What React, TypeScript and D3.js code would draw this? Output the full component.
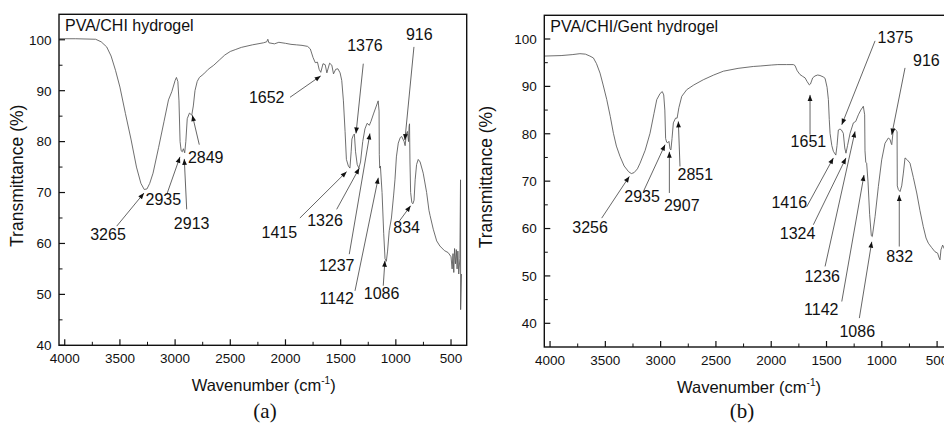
import * as d3 from "d3";

// FTIR spectra: wavenumber (cm-1) and transmittance (%)
const wavenumberA = [
  4050, 3900, 3720, 3670, 3620, 3580, 3540, 3500, 3450, 3400, 3350, 3310, 3280, 3255, 3230, 3200,
  3150, 3100, 3060, 3030, 3000, 2988, 2975, 2965, 2955, 2945, 2935, 2925, 2913, 2903, 2890, 2870,
  2849, 2835, 2820, 2800, 2780, 2740, 2700, 2650, 2600, 2550, 2500, 2450, 2400, 2300, 2200, 2170,
  2160, 2150, 2100, 2060, 2000, 1950, 1900, 1850, 1800, 1775, 1750, 1730, 1710, 1695, 1680, 1660,
  1640, 1625, 1600, 1580, 1565, 1545, 1525, 1505, 1490, 1475, 1460, 1448, 1430, 1416, 1405, 1398,
  1386, 1376, 1365, 1350, 1335, 1320, 1300, 1280, 1260, 1240, 1225, 1200, 1180, 1160, 1152, 1150,
  1146, 1140, 1125, 1110, 1098, 1086, 1075, 1060, 1040, 1020, 1008, 995, 978, 960, 947, 925,
  916, 905, 895, 885, 880, 876, 872, 866, 855, 845, 835, 825, 812, 797, 780, 752,
  721, 700, 690, 661, 630, 601, 560, 526, 500, 490, 482, 475, 468, 460, 452, 445,
  438, 430, 420, 414, 413, 405,
];
const transA = [
  100.2, 100.2, 100.1, 99.6, 98.6, 96.8, 94, 90.7, 85.5, 80.5, 75, 71.8, 70.6, 70.7, 71.8, 73.8,
  78.8, 84, 88.2, 89.8, 92, 92.6, 91.8, 88, 80, 78.2, 78, 78.6, 77.8, 80, 84.5, 85.6,
  85.2, 87, 90, 91.8, 92.6, 93.3, 94.2, 95, 96, 97, 97.7, 98.1, 98.5, 99, 99.4, 99.6,
  100.1, 99.4, 99.2, 99.5, 99.3, 99.1, 99, 98.9, 98.7, 98.2, 96.5, 95.5, 95.6, 94.2, 93.6, 95.3,
  95.1, 93.5, 95.4, 95, 93.3, 94.2, 94.3, 93.5, 92, 88, 82, 76.5, 75.2, 74.8, 78, 80.5,
  81.2, 81.5, 78, 75.5, 74.8, 76, 80, 82.5, 83.6, 83.2, 84, 85.6, 86.8, 88, 86, 77.5,
  74.8, 75.2, 70, 62, 57, 56.5, 58.5, 62.5, 65, 69.5, 72.5, 77, 79.7, 80.8, 81, 80,
  79.2, 81.5, 82, 80, 83, 83.5, 76, 70, 68, 67.8, 68.5, 72.5, 75.5, 76.5, 76, 73.8,
  70, 66.5, 65.5, 62.8, 60.5, 59.5, 58.6, 58.2, 57.4, 55, 58, 54.3, 59, 56, 58.8, 55,
  58.5, 54, 57, 72.5, 47, 54,
];

const wavenumberB = [
  4050, 3900, 3800, 3730, 3680, 3640, 3608, 3580, 3548, 3520, 3487, 3455, 3427, 3400, 3367, 3330,
  3290, 3265, 3240, 3210, 3186, 3140, 3096, 3060, 3035, 3005, 2985, 2972, 2962, 2955, 2945, 2935,
  2925, 2915, 2907, 2897, 2885, 2865, 2851, 2835, 2809, 2780, 2764, 2700, 2614, 2520, 2433, 2300,
  2162, 2100, 2000, 1940, 1860, 1800, 1785, 1765, 1740, 1715, 1694, 1675, 1655, 1645, 1625, 1604,
  1580, 1559, 1530, 1513, 1495, 1483, 1475, 1468, 1452, 1438, 1416, 1405, 1393, 1378, 1365, 1348,
  1335, 1324, 1310, 1287, 1257, 1236, 1212, 1190, 1167, 1155, 1152, 1145, 1137, 1125, 1110, 1095,
  1086, 1061, 1031, 1001, 971, 941, 925, 916, 910, 900, 890, 875, 862, 860, 850, 835,
  820, 805, 790, 770, 745, 715, 684, 655, 625, 600, 579, 550, 519, 495, 485, 474,
  465, 450, 430, 410,
];
const transB = [
  96.4, 96.5, 96.7, 96.9, 96.8, 96.4, 96, 94.8, 92.8, 90.3, 87.2, 83.6, 80.1, 77.4, 75.2, 73.2,
  72, 71.6, 71.8, 72.6, 73.8, 76.5, 80.1, 84.3, 87.2, 88.5, 88.9, 88.2, 85, 79, 78.2, 78.1,
  78.4, 76.8, 76.6, 79, 82.3, 83.3, 83.3, 85.5, 87.9, 88.8, 89.3, 90.3, 91.4, 92.4, 93.2, 93.8,
  94.2, 94.3, 94.5, 94.6, 94.6, 94.6, 94.4, 93.3, 92.5, 92.1, 91.8, 91, 90.3, 90.5, 91.8, 92.2,
  92.4, 92.3, 92, 91.7, 89.8, 87.2, 83, 80.1, 77.5, 76.3, 75.5, 77.5, 80.8, 81, 80.8, 80.1,
  77, 75.9, 77.5, 80.1, 82.3, 82.6, 84, 85, 85.8, 84, 76.4, 74, 73.8, 70, 63, 58.5,
  58.3, 62.5, 68.9, 74.5, 78, 79.1, 78.8, 78, 77.7, 80, 81.2, 80.8, 80.5, 69, 68.2, 67.8,
  69, 71.7, 74.9, 74.5, 73.8, 70.8, 67.5, 63.8, 60.4, 58, 56.9, 56, 55.1, 54.8, 54, 53.4,
  55.5, 56.5, 55.5, 55,
];

const xTicks = [4000, 3500, 3000, 2500, 2000, 1500, 1000, 500];
const yTicks = [40, 50, 60, 70, 80, 90, 100];

// band labels: where the text sits, where the leader starts, where the arrow points
const bandsA = [
  { label: "3265", text: [3608, 60.7], from: [3529, 63.4], to: [3282, 69.9] },
  { label: "2935", text: [3107, 67.6], from: [3076, 69.6], to: [2956, 77.0] },
  { label: "2913", text: [2850, 62.8], from: [2895, 66.7], to: [2917, 76.6] },
  { label: "2849", text: [2723, 75.8], from: [2781, 79.4], to: [2844, 85.2] },
  { label: "1652", text: [2170, 87.5], from: [1959, 88.7], to: [1681, 92.9] },
  { label: "1376", text: [1280, 97.8], from: [1295, 95.3], to: [1361, 81.6] },
  { label: "916", text: [788, 100], from: [836, 98.6], to: [918, 80.3] },
  { label: "1415", text: [2056, 61.1], from: [1869, 65.0], to: [1446, 74.1] },
  { label: "1326", text: [1642, 63.5], from: [1536, 66.7], to: [1331, 74.8] },
  { label: "1237", text: [1536, 54.6], from: [1422, 57.9], to: [1235, 81.6] },
  { label: "1142", text: [1536, 48.1], from: [1370, 50.7], to: [1159, 72.9] },
  { label: "1086", text: [1129, 49.1], from: [1114, 51.7], to: [1099, 56.6] },
  { label: "834", text: [902, 62.1], from: [978, 64.1], to: [866, 67.4] },
];
const bandsB = [
  { label: "3256", text: [3638, 59.0], from: [3533, 62.2], to: [3283, 71.0] },
  { label: "2935", text: [3168, 65.7], from: [3156, 67.8], to: [2960, 77.7] },
  { label: "2907", text: [2809, 63.8], from: [2921, 67.5], to: [2921, 76.2] },
  { label: "2851", text: [2686, 70.3], from: [2825, 73.1], to: [2840, 82.6] },
  { label: "1651", text: [1664, 77.3], from: [1649, 79.8], to: [1649, 88.2] },
  { label: "1375", text: [878, 99.2], from: [1061, 99.6], to: [1362, 81.9] },
  { label: "916", text: [597, 94.2], from: [790, 93.9], to: [910, 79.8] },
  { label: "1416", text: [1837, 64.3], from: [1679, 64.6], to: [1438, 74.9] },
  { label: "1324", text: [1762, 57.7], from: [1619, 60.8], to: [1324, 74.9] },
  { label: "1236", text: [1539, 48.8], from: [1513, 52.0], to: [1242, 80.5] },
  { label: "1142", text: [1547, 41.7], from: [1362, 44.6], to: [1161, 71.3] },
  { label: "1086", text: [1222, 37.2], from: [1203, 41.1], to: [1091, 57.2] },
  { label: "832", text: [838, 53.0], from: [842, 56.2], to: [842, 67.1] },
];

const SANS = "'Liberation Sans', Arial, sans-serif";

function Panel(props) {
  const { id, title, tag, wn, tr, bands, yMin, left, right, top, bottom, yTitleX, tagX, xTitleX } = props;
  const x = d3.scaleLinear().domain([4052, 358]).range([left, right]);
  const y = d3.scaleLinear().domain([yMin, 105]).range([bottom, top]);
  const line = d3
    .line<number>()
    .x((d, i) => x(wn[i]))
    .y((d) => y(d));
  const minorX = d3.range(750, 4000, 500);
  const minorY = d3.range(45, 100, 10);
  const midY = (top + bottom) / 2 - 4;

  return (
    <g>
      <defs>
        <marker id={"arrow" + id} viewBox="0 0 10 10" refX="10" refY="5" markerWidth="7" markerHeight="6"
          markerUnits="userSpaceOnUse" orient="auto">
          <path d="M0,1 L10,5 L0,9 z" fill="#111" />
        </marker>
      </defs>
      <path d={line(tr) || ""} fill="none" stroke="#555" strokeWidth={0.85} />

      {bands.map((b) => (
        <g key={b.label}>
          <line x1={x(b.from[0])} y1={y(b.from[1])} x2={x(b.to[0])} y2={y(b.to[1])}
            stroke="#333" strokeWidth={0.75} markerEnd={`url(#arrow${id})`} />
          <text x={x(b.text[0])} y={y(b.text[1])} textAnchor="middle" fontSize={16} fontFamily={SANS} fill="#111">
            {b.label}
          </text>
        </g>
      ))}

      <rect x={left} y={top} width={right - left} height={bottom - top} fill="none" stroke="#111" strokeWidth={1.4} />

      {xTicks.map((t) => (
        <g key={"x" + t}>
          <line x1={x(t)} x2={x(t)} y1={bottom} y2={bottom - 6} stroke="#111" strokeWidth={1.2} />
          <text x={x(t)} y={bottom + 17.5} textAnchor="middle" fontSize={13.5} fontFamily={SANS} fill="#111">{t}</text>
        </g>
      ))}
      {minorX.map((t) => (
        <line key={"mx" + t} x1={x(t)} x2={x(t)} y1={bottom} y2={bottom - 3.5} stroke="#111" strokeWidth={1} />
      ))}
      {yTicks.map((t) => (
        <g key={"y" + t}>
          <line x1={left} x2={left + 6} y1={y(t)} y2={y(t)} stroke="#111" strokeWidth={1.2} />
          <text x={left - 7.5} y={y(t)} dy="0.36em" textAnchor="end" fontSize={13.5} fontFamily={SANS} fill="#111">{t}</text>
        </g>
      ))}
      {minorY.map((t) => (
        <line key={"my" + t} x1={left} x2={left + 3.5} y1={y(t)} y2={y(t)} stroke="#111" strokeWidth={1} />
      ))}

      <text x={left + 6} y={top + 17} fontSize={16} fontFamily={SANS} fill="#111">{title}</text>

      <text x={xTitleX} y={bottom + 46} textAnchor="middle" fontSize={16.5} fontFamily={SANS} fill="#111">
        Wavenumber (cm<tspan fontSize={10} dy={-7}>-1</tspan><tspan dy={7}>)</tspan>
      </text>
      <text transform={`translate(${yTitleX},${midY}) rotate(-90)`} textAnchor="middle" fontSize={17.5}
        fontFamily={SANS} fill="#111">
        Transmittance (%)
      </text>
      <text x={tagX} y={417.5} textAnchor="middle" fontSize={21} fontFamily="'Liberation Serif', 'Times New Roman', serif"
        fill="#111">
        {tag}
      </text>
    </g>
  );
}

export default function App() {
  return (
    <svg width={944} height={423} style={{ position: "absolute", left: 0, top: 0, background: "#fff" }}>
      <Panel id="a" title="PVA/CHI hydrogel" tag="(a)" wn={wavenumberA} tr={transA} bands={bandsA} yMin={40}
        left={59} right={466.7} top={14.3} bottom={345.3} yTitleX={23} tagX={265} xTitleX={263.7} />
      <Panel id="b" title="PVA/CHI/Gent hydrogel" tag="(b)" wn={wavenumberB} tr={transB} bands={bandsB} yMin={35}
        left={544.3} right={952.8} top={15.3} bottom={347} yTitleX={492} tagX={742} xTitleX={749} />
    </svg>
  );
}
